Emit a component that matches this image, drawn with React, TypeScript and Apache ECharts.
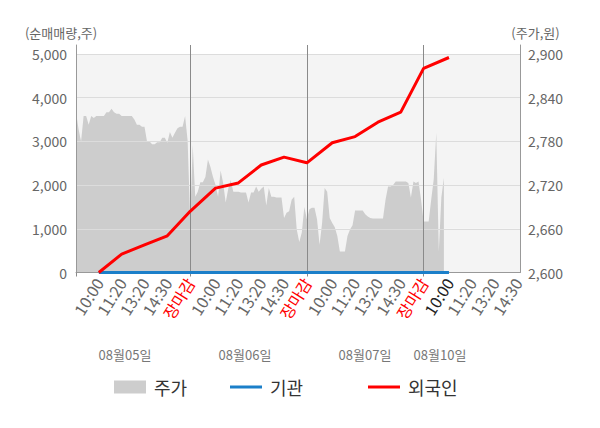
import React, { useEffect, useRef } from 'react';
import * as echarts from 'echarts';

// tick labels
const timeLabels = ['10:00', '11:20', '13:20', '14:30', '장마감'];
const dayLabels = ['08월05일', '08월06일', '08월07일', '08월10일'];
const seriesNames = ['주가', '기관', '외국인'];

// slot layout of the category axis (fine slots between labelled times)
const LEAD = 9;      // slots before first 10:00
const STEP = 9;      // slots between intraday labels
const DAY = 46;      // slots per trading day
const SLOT_COUNT = 176;
const LATEST_SLOT = 147;

// 주가 (원), one value per slot from the start of the axis
const priceValues = [
  2820, 2797, 2780, 2815, 2815, 2803, 2815, 2812, 2815, 2815,
  2815, 2815, 2820, 2820, 2825, 2820, 2818, 2818, 2815, 2815,
  2815, 2815, 2815, 2810, 2803, 2803, 2800, 2800, 2780, 2780,
  2776, 2776, 2779, 2779, 2785, 2785, 2778, 2793, 2785, 2792,
  2798, 2800, 2800, 2815, 2781, 2673, 2775, 2704, 2711, 2724,
  2724, 2731, 2755, 2745, 2731, 2720, 2704, 2740, 2723, 2696,
  2715, 2727, 2711, 2711, 2711, 2710, 2710, 2710, 2696, 2710,
  2710, 2718, 2711, 2715, 2718, 2692, 2716, 2704, 2704, 2703,
  2703, 2703, 2675, 2682, 2684, 2700, 2704, 2659, 2642, 2655,
  2690, 2673, 2687, 2689, 2689, 2673, 2638, 2668, 2716, 2711,
  2675, 2668, 2662, 2650, 2629, 2629, 2629, 2650, 2659, 2665,
  2685, 2685, 2685, 2685, 2680, 2677, 2675, 2674, 2674, 2674,
  2674, 2674, 2700, 2718, 2718, 2720, 2725, 2725, 2725, 2725,
  2725, 2723, 2703, 2725, 2723, 2725, 2700, 2670, 2670, 2670,
  2700, 2728, 2792, 2629, 2703, 2730,
];

// 순매매량 (주) at each labelled time: 08/05 10:00 ... 08/10 10:00
const foreignValues = [0, 420, 630, 840, 1400, 1930, 2050, 2460, 2640, 2510, 2970, 3110, 3440, 3670, 4670, 4920];
const institutionValues = [0, 0, 0, 0, 0, 0, 0, 0, 0, 0, 0, 0, 0, 0, 0, 0];

const dayLabelX = [125, 245, 365, 440];

const FONT = "'Noto Sans CJK KR', 'Noto Sans', sans-serif";
const LINE_ICON = 'path://M0,0H32V3H0Z';

const categories = Array.from({ length: SLOT_COUNT }, (_, i) => `s${i}`);

function labelOfSlot(i: number): number {
  if (i < LEAD) return -1;
  const k = i - LEAD;
  const r = k % DAY;
  if (r % STEP !== 0) return -1;
  const j = r / STEP;
  return j <= 4 ? j : -1;
}

const labelSlots: number[] = [];
for (let i = 0; i < SLOT_COUNT; i++) if (labelOfSlot(i) >= 0) labelSlots.push(i);
const closeSlots = labelSlots.filter((i) => labelOfSlot(i) === 4);

function sparse(values: number[]): (number | null)[] {
  const arr: (number | null)[] = new Array(SLOT_COUNT).fill(null);
  values.forEach((v, m) => {
    if (labelSlots[m] !== undefined) arr[labelSlots[m]] = v;
  });
  return arr;
}

function fmt(v: number): string {
  return String(Math.round(v)).replace(/\B(?=(\d{3})+(?!\d))/g, ',');
}

const LEFT_MAX = 5206;
const RIGHT_MIN = 2600;
const RIGHT_MAX = 2600 + (300 * LEFT_MAX) / 5000;
const XFS = 16;

export default function App() {
  const ref = useRef<HTMLDivElement>(null);
  useEffect(() => {
    if (!ref.current) return;
    const chart = echarts.init(ref.current, undefined, { renderer: 'svg' });
    const option: any = {
      animation: false,
      textStyle: { fontFamily: FONT },
      grid: { left: 76, right: 80, top: 45, bottom: 155.5 },
      legend: [0, 1, 2].map((k) => ({
        data: [{ name: seriesNames[k], icon: k === 0 ? 'rect' : LINE_ICON }],
        left: [114, 230, 368][k],
        top: 378,
        padding: 0,
        itemWidth: 32,
        itemHeight: 13,
        symbolKeepAspect: true,
        selectedMode: false,
        textStyle: { fontSize: 18, color: '#333', fontFamily: FONT, padding: [0, 0, 0, 3] },
      })),
      xAxis: {
        type: 'category',
        data: categories,
        boundaryGap: false,
        offset: 2,
        z: 3,
        axisLine: { lineStyle: { color: '#999', width: 1 } },
        axisTick: {
          show: true,
          length: 4,
          interval: (i: number) => i === 0 || closeSlots.includes(i),
          lineStyle: { color: '#8a8a8a' },
        },
        splitLine: {
          show: true,
          interval: (i: number) => closeSlots.includes(i),
          lineStyle: { color: '#8a8a8a', width: 1 },
        },
        axisLabel: {
          interval: (i: number) => labelOfSlot(i) >= 0,
          rotate: 58,
          margin: 5,
          fontSize: XFS,
          color: '#666',
          fontFamily: FONT,
          formatter: (value: string) => {
            const i = Number(value.slice(1));
            const j = labelOfSlot(i);
            if (j < 0) return '';
            const t = timeLabels[j];
            if (j === 4) return `{red|${t}}`;
            if (i === LATEST_SLOT) return `{now|${t}}`;
            return `{t|${t}}`;
          },
          rich: {
            t: { color: '#666', fontSize: XFS, fontFamily: FONT },
            red: { color: '#ff0000', fontSize: XFS, fontFamily: FONT },
            now: { color: '#222', fontSize: XFS, fontFamily: FONT },
          },
        },
      },
      yAxis: [
        {
          type: 'value',
          min: 0,
          max: LEFT_MAX,
          interval: 1000,
          z: 3,
          name: '(순매매량,주)',
          nameLocation: 'end',
          nameGap: 6,
          nameTextStyle: { color: '#666', fontSize: 13, fontFamily: FONT, align: 'center', padding: [0, 30, 0, 0] },
          axisLine: { show: true, lineStyle: { color: '#999' } },
          axisTick: { show: false },
          axisLabel: {
            color: '#666',
            fontSize: 14,
            margin: 9,
            fontFamily: FONT,
            formatter: (v: number) => (v % 1000 === 0 ? fmt(v) : ''),
          },
          splitLine: { show: true, showMinLine: false, showMaxLine: false, lineStyle: { color: '#dcdcdc', width: 1 } },
        },
        {
          type: 'value',
          min: RIGHT_MIN,
          max: RIGHT_MAX,
          interval: 60,
          position: 'right',
          z: 0,
          name: '(주가,원)',
          nameLocation: 'end',
          nameGap: 6,
          nameTextStyle: { color: '#666', fontSize: 13, fontFamily: FONT, align: 'center', padding: [0, 0, 0, 31] },
          axisLine: { show: true, lineStyle: { color: '#999' } },
          axisTick: { show: false },
          axisLabel: {
            color: '#666',
            fontSize: 14,
            margin: 8,
            fontFamily: FONT,
            formatter: (v: number) => {
              const q = (v - RIGHT_MIN) / 60;
              return Math.abs(q - Math.round(q)) < 1e-6 ? fmt(v) : '';
            },
          },
          splitLine: { show: false },
          splitArea: {
            show: true,
            areaStyle: { color: ['#f4f4f4', '#f4f4f4', '#f4f4f4', '#f4f4f4', '#f4f4f4', 'rgba(0,0,0,0)'] },
          },
        },
      ],
      series: [
        {
          name: seriesNames[0],
          type: 'line',
          yAxisIndex: 1,
          data: priceValues,
          symbol: 'none',
          z: 2,
          itemStyle: { color: '#cdcdcd' },
          lineStyle: { width: 0, color: '#cdcdcd' },
          areaStyle: { color: '#cdcdcd', opacity: 1, origin: 'start' },
        },
        {
          name: seriesNames[1],
          type: 'line',
          yAxisIndex: 0,
          data: sparse(institutionValues),
          connectNulls: true,
          symbol: 'none',
          z: 6,
          itemStyle: { color: '#1b7fc9' },
          lineStyle: { width: 3, color: '#1b7fc9' },
          markLine: {
            silent: true,
            z: 3,
            symbol: ['none', 'none'],
            label: { show: false },
            lineStyle: { color: '#999', width: 1, type: 'solid' },
            data: [{ yAxis: 0 }],
          },
        },
        {
          name: seriesNames[2],
          type: 'line',
          yAxisIndex: 0,
          data: sparse(foreignValues),
          connectNulls: true,
          symbol: 'none',
          z: 7,
          itemStyle: { color: '#ff0000' },
          lineStyle: { width: 3, color: '#ff0000' },
        },
      ],
      graphic: dayLabels.map((t, k) => ({
        type: 'text',
        x: dayLabelX[k],
        y: 354,
        style: {
          text: t,
          fill: '#777',
          font: `13px ${FONT}`,
          textAlign: 'center',
          textVerticalAlign: 'middle',
        },
      })),
    };
    chart.setOption(option);
    return () => chart.dispose();
  }, []);
  return (
    <div
      ref={ref}
      style={{ position: 'absolute', left: 0, top: 0, width: 600, height: 428 }}
    />
  );
}
